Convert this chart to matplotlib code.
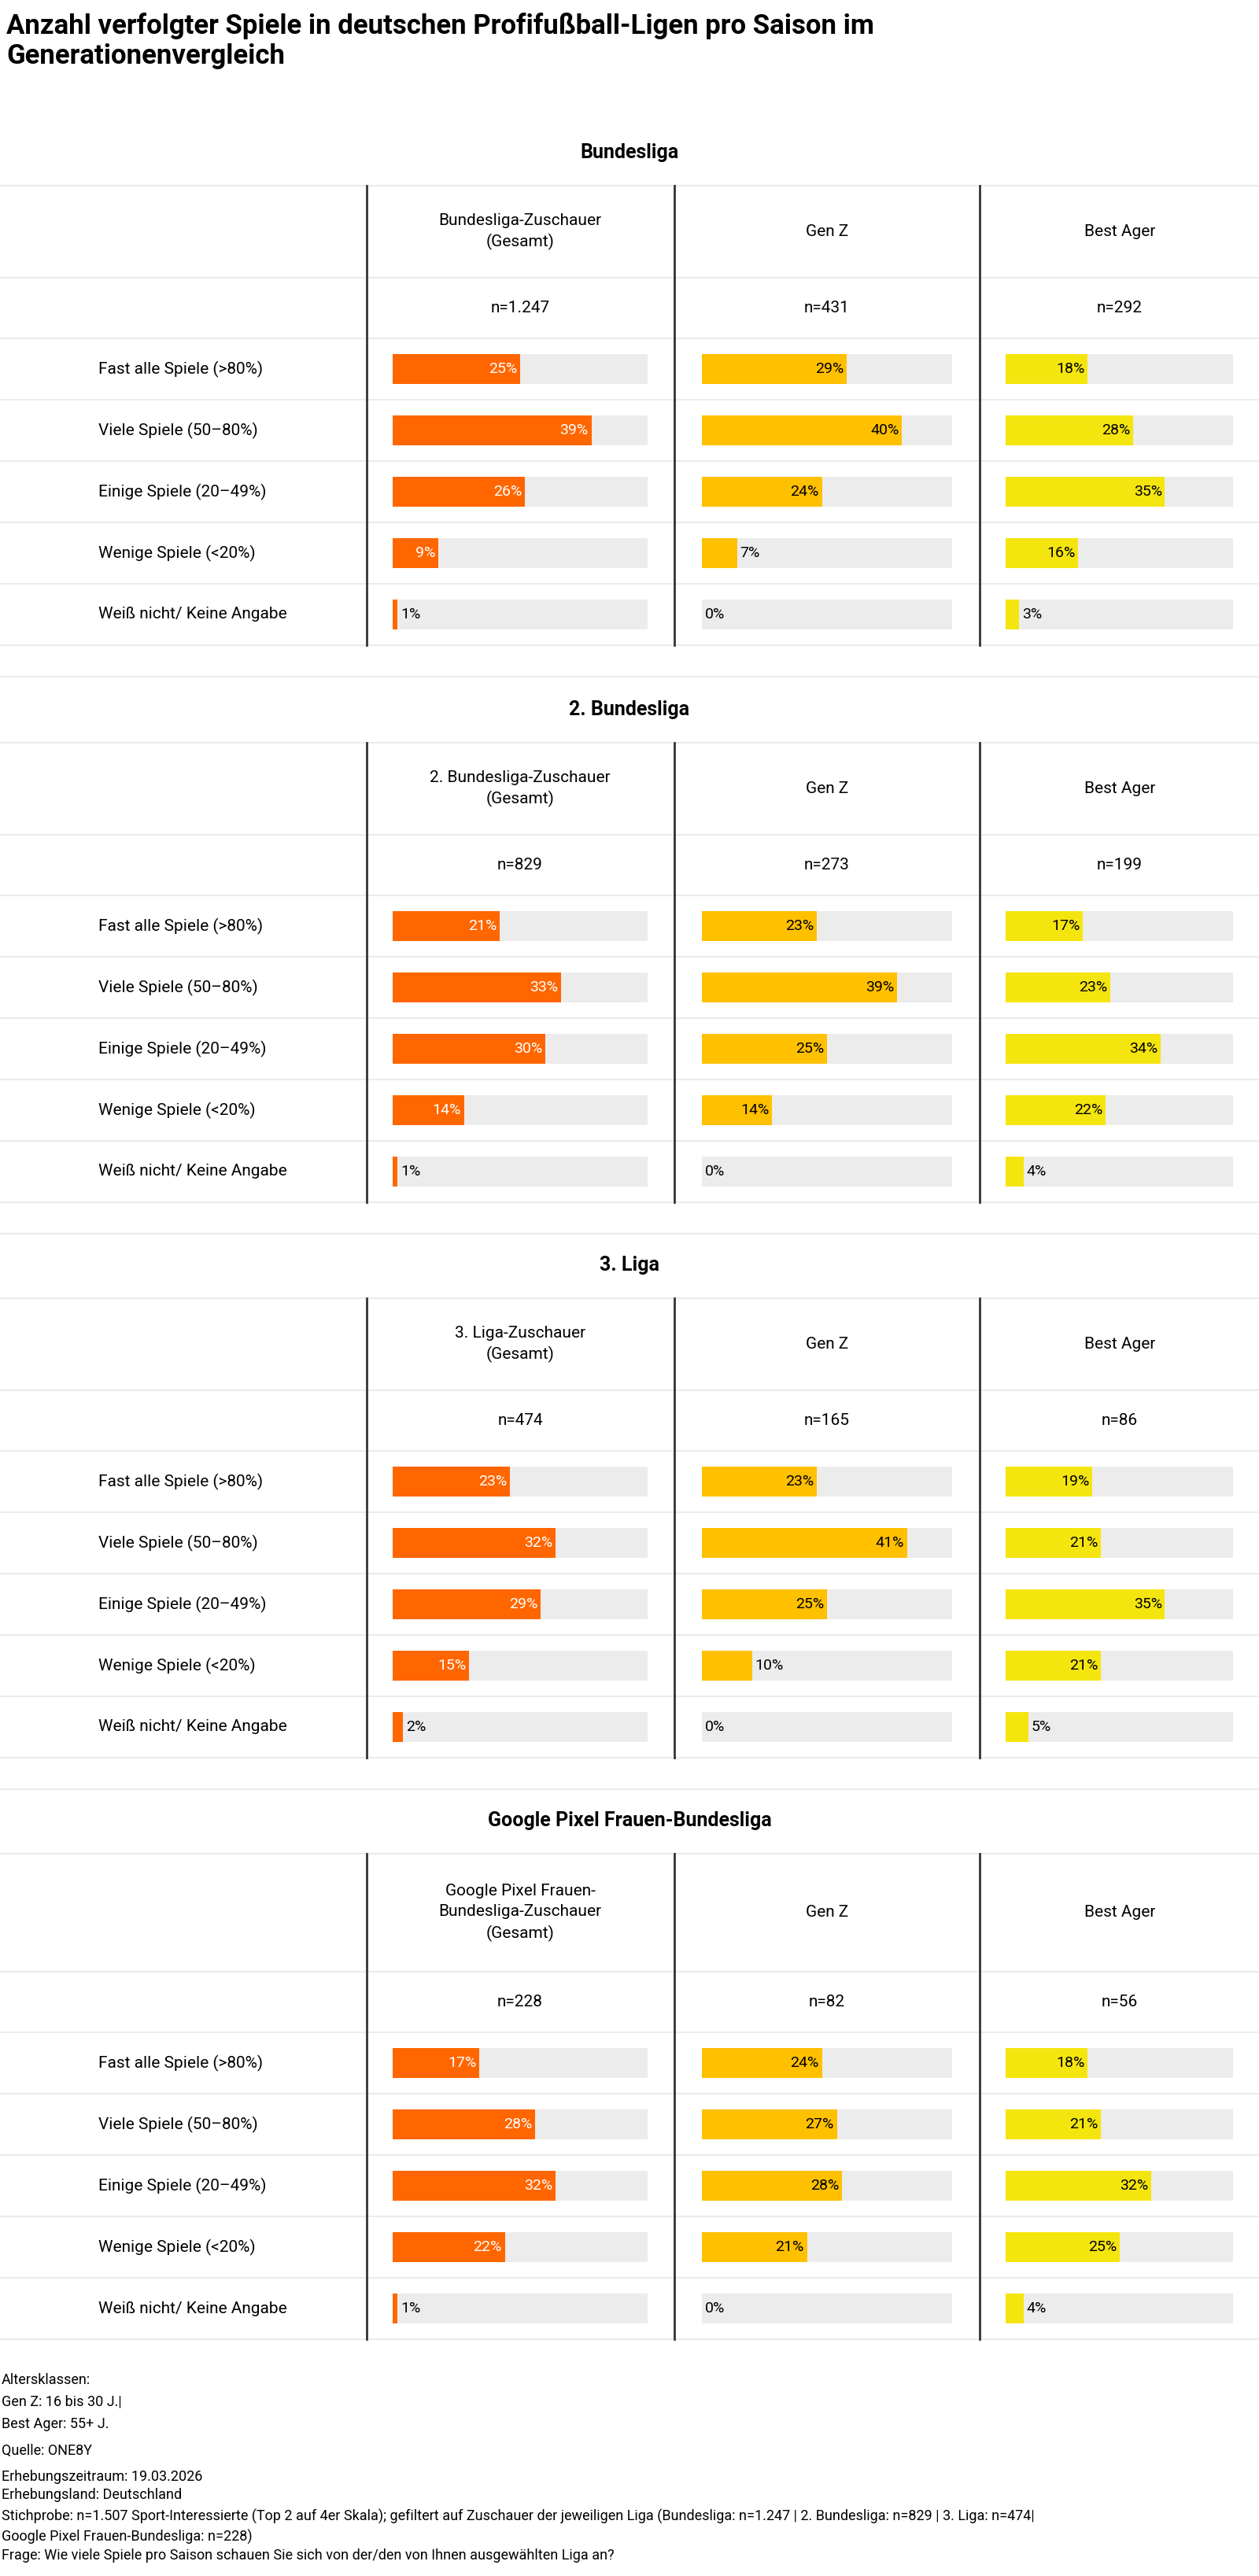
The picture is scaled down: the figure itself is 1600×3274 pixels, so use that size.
import numpy as np
import matplotlib.pyplot as plt


WIDTH = 1600
HEIGHT = 3274

plt.rcParams['font.family'] = ['Roboto', 'DejaVu Sans']

TITLE = 'Anzahl verfolgter Spiele in deutschen Profifußball-Ligen pro Saison im\nGenerationenvergleich'

LEAGUES = ['Bundesliga', '2. Bundesliga', '3. Liga', 'Google Pixel Frauen-Bundesliga']
GROUP_HEADERS = [
    ['Bundesliga-Zuschauer\n(Gesamt)', 'Gen Z', 'Best Ager'],
    ['2. Bundesliga-Zuschauer\n(Gesamt)', 'Gen Z', 'Best Ager'],
    ['3. Liga-Zuschauer\n(Gesamt)', 'Gen Z', 'Best Ager'],
    ['Google Pixel Frauen-\nBundesliga-Zuschauer\n(Gesamt)', 'Gen Z', 'Best Ager'],
]
SAMPLE_SIZES = [
    ['n=1.247', 'n=431', 'n=292'],
    ['n=829', 'n=273', 'n=199'],
    ['n=474', 'n=165', 'n=86'],
    ['n=228', 'n=82', 'n=56'],
]
ANSWERS = ['Fast alle Spiele (>80%)', 'Viele Spiele (50–80%)', 'Einige Spiele (20–49%)',
           'Wenige Spiele (<20%)', 'Weiß nicht/ Keine Angabe']

# values per league: [gesamt, gen z, best ager], one entry per answer
BUNDESLIGA = [[25, 39, 26, 9, 1], [29, 40, 24, 7, 0], [18, 28, 35, 16, 3]]
BUNDESLIGA_2 = [[21, 33, 30, 14, 1], [23, 39, 25, 14, 0], [17, 23, 34, 22, 4]]
LIGA_3 = [[23, 32, 29, 15, 2], [23, 41, 25, 10, 0], [19, 21, 35, 21, 5]]
FRAUEN = [[17, 28, 32, 22, 1], [24, 27, 28, 21, 0], [18, 21, 32, 25, 4]]

FOOTER = [
    (3025, 'Altersklassen:'),
    (3052, 'Gen Z: 16 bis 30 J.|'),
    (3081, 'Best Ager: 55+ J.'),
    (3115, 'Quelle: ONE8Y'),
    (3148, 'Erhebungszeitraum: 19.03.2026'),
    (3171, 'Erhebungsland: Deutschland'),
    (3198, 'Stichprobe: n=1.507 Sport-Interessierte (Top 2 auf 4er Skala); gefiltert auf Zuschauer der jeweiligen Liga (Bundesliga: n=1.247 | 2. Bundesliga: n=829 | 3. Liga: n=474|'),
    (3224, 'Google Pixel Frauen-Bundesliga: n=228)'),
    (3248, 'Frage: Wie viele Spiele pro Saison schauen Sie sich von der/den von Ihnen ausgewählten Liga an?'),
]

COLORS = ['#ff6600', '#ffc000', '#f5e50f']
TEXT_COLORS = ['white', 'black', 'black']
INSIDE_MIN = [5, 12, 12]  # smallest value that gets its label inside the bar
TRACK = '#ececec'
GRID = '#ebebeb'

SECTION_TOPS = [236, 944, 1650, 2356]
HEADER_HEIGHTS = [117, 117, 117, 150]
N_ROW = 77
ROW = 78
DIVIDERS = [466, 857, 1245]
CENTERS = [661, 1051, 1423]
TRACKS = [(499, 823), (892, 1210), (1278, 1567)]


def px_axes(fig, x0, x1, y0, y1):
    """Axes placed by pixel box (y measured from the top)."""
    return fig.add_axes([x0 / WIDTH, 1 - y1 / HEIGHT, (x1 - x0) / WIDTH, (y1 - y0) / HEIGHT])


def draw_section(fig, bg, top, header_h, league, headers, sizes, values):
    bottom = top + header_h + N_ROW + 5 * ROW
    bg.text(WIDTH / 2, top - 42, league, ha='center', va='center', fontsize=18, fontweight='bold')

    # horizontal grid lines
    lines = [top, top + header_h, top + header_h + N_ROW]
    lines += [top + header_h + N_ROW + (i + 1) * ROW for i in range(5)]
    for y in lines:
        bg.plot([0, WIDTH], [y, y], color=GRID, lw=1.5)
    for x in DIVIDERS:
        bg.plot([x, x], [top, bottom], color='#333333', lw=2)

    for c in range(3):
        bg.text(CENTERS[c], top + header_h / 2, headers[c], ha='center', va='center',
                fontsize=15, linespacing=1.45)
        bg.text(CENTERS[c], top + header_h + N_ROW / 2, sizes[c], ha='center', va='center', fontsize=15)

    rows_top = top + header_h + N_ROW
    for i, answer in enumerate(ANSWERS):
        bg.text(125, rows_top + (i + 0.5) * ROW, answer, ha='left', va='center', fontsize=15)

    for c in range(3):
        ax = px_axes(fig, TRACKS[c][0], TRACKS[c][1], rows_top, rows_top + 5 * ROW)
        y = np.arange(len(ANSWERS))
        ax.barh(y, 50, height=0.49, color=TRACK)
        ax.barh(y, values[c], height=0.49, color=COLORS[c])
        for yi, v in zip(y, values[c]):
            if v >= INSIDE_MIN[c]:
                ax.text(v - 0.6, yi, f'{v}%', ha='right', va='center', color=TEXT_COLORS[c], fontsize=14)
            else:
                ax.text(v + 0.6, yi, f'{v}%', ha='left', va='center', color='black', fontsize=14)
        ax.set_xlim(0, 50)
        ax.set_ylim(4.5, -0.5)
        ax.axis('off')

    return bottom


def main():
    fig = plt.figure(figsize=(WIDTH / 100, HEIGHT / 100), dpi=100)
    bg = fig.add_axes([0, 0, 1, 1])
    bg.set_xlim(0, WIDTH)
    bg.set_ylim(HEIGHT, 0)
    bg.axis('off')

    bg.text(8, 52, TITLE, ha='left', va='center', fontsize=25, fontweight='bold', linespacing=1.2)

    data = [BUNDESLIGA, BUNDESLIGA_2, LIGA_3, FRAUEN]
    for k in range(4):
        bottom = draw_section(fig, bg, SECTION_TOPS[k], HEADER_HEIGHTS[k], LEAGUES[k],
                              GROUP_HEADERS[k], SAMPLE_SIZES[k], data[k])
        if k < 3:
            bg.plot([0, WIDTH], [bottom + 40, bottom + 40], color=GRID, lw=1.5)

    for y, line in FOOTER:
        bg.text(2, y, line, ha='left', va='center', fontsize=13)

    plt.savefig('out.png', dpi=100)
    plt.close()


if __name__ == '__main__':
    main()
